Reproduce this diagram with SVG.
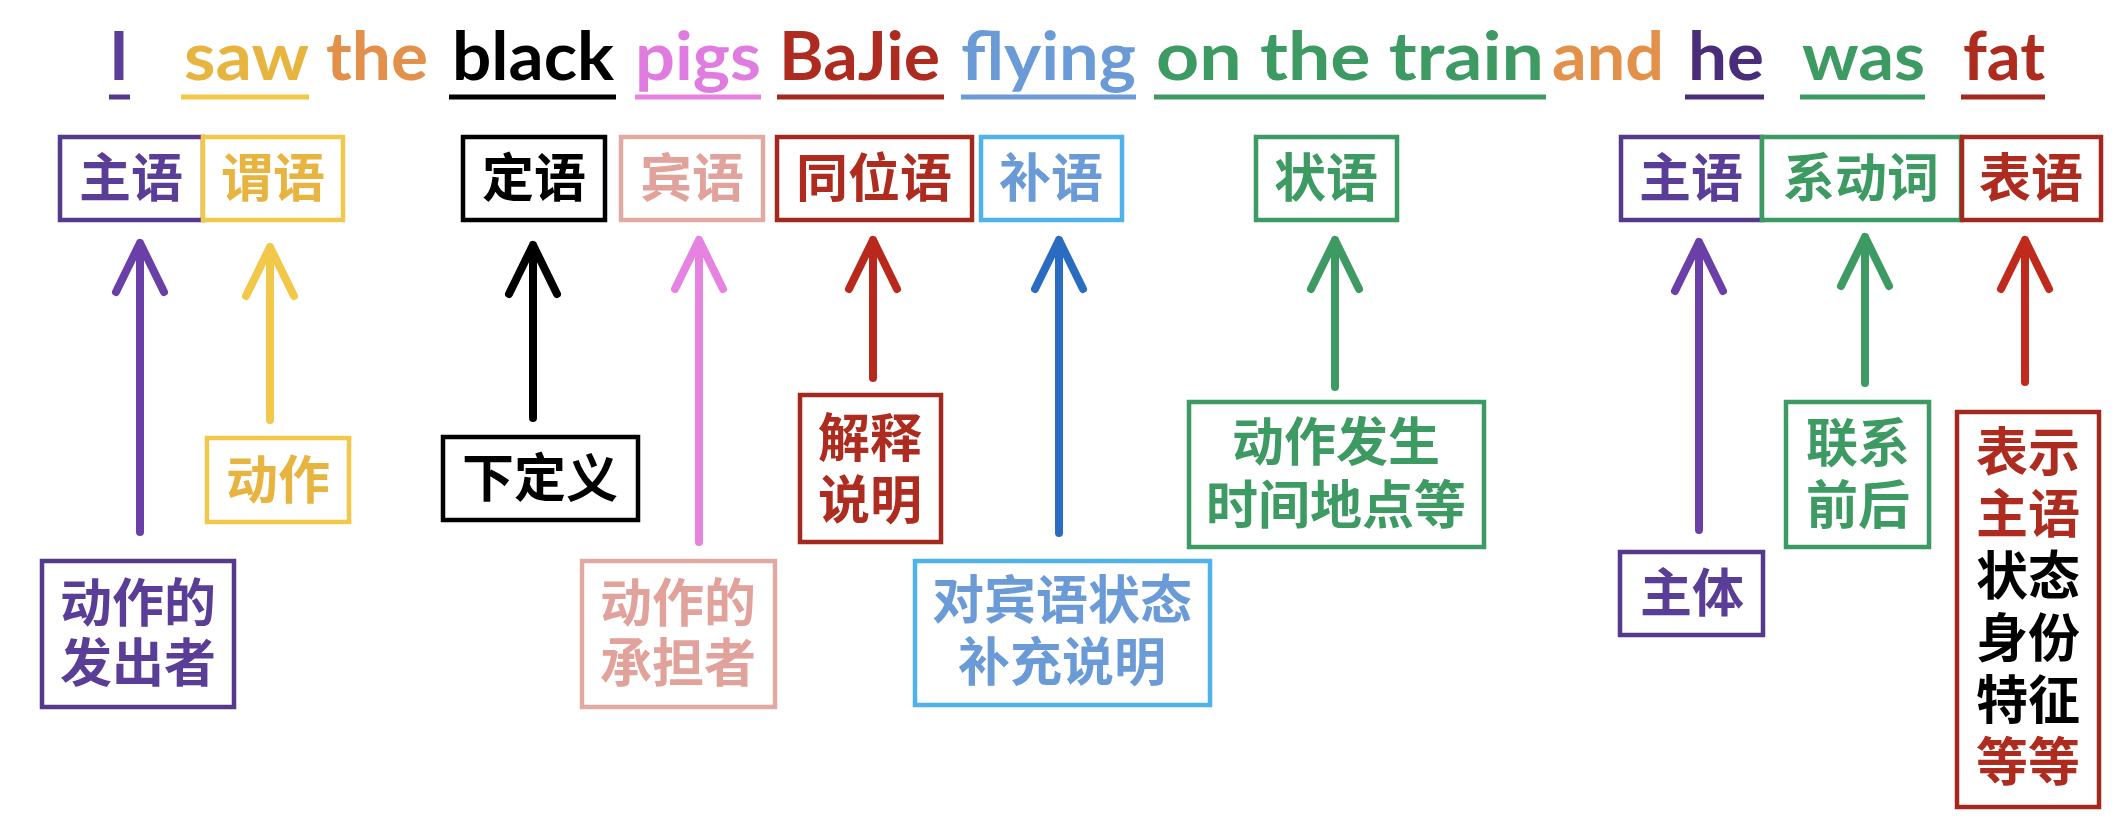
<svg xmlns="http://www.w3.org/2000/svg" width="2126" height="820" viewBox="0 0 2126 820">
<style>
.w{font-family:Lato,"Noto Sans","Liberation Sans",sans-serif;font-weight:700;font-size:67px}
.c{font-family:"Noto Sans CJK SC","Noto Sans",sans-serif;font-weight:700;font-size:52px;text-anchor:middle}
.b{fill:#fff;stroke-width:4.5}
.u{stroke-width:5;fill:none}
.a{fill:none;stroke-width:8;stroke-linecap:round;stroke-linejoin:round}
.pu{fill:#5a3d96}.puS{stroke:#553a8c}
.ye{fill:#e8b440}.yeS{stroke:#f2c84a}
.or{fill:#e3904a}
.bk{fill:#000}.bkS{stroke:#000}
.pk{fill:#e07ce0}.pkS{stroke:#e683e0}
.sa{fill:#e0a29a}.saS{stroke:#e0aaa2}
.rd{fill:#ad2b1f}.rdS{stroke:#a3281d}
.bl{fill:#6b9bd6}.blS{stroke:#4fb3ea}.blA{stroke:#2a6cc0}
.gr{fill:#3d9a62}.grS{stroke:#3d9a62}
.dp{fill:#4a2d7a}.dpS{stroke:#4a2d7a}
</style>
<rect width="2126" height="820" fill="#fff"/>

<g id="sentence">
<text class="w pu" x="119" y="80" text-anchor="middle">I</text>
<text class="w ye" x="184" y="80" textLength="125" lengthAdjust="spacingAndGlyphs">saw</text>
<text class="w or" x="326" y="80" textLength="102" lengthAdjust="spacingAndGlyphs">the</text>
<text class="w bk" x="452" y="80" textLength="162" lengthAdjust="spacingAndGlyphs">black</text>
<text class="w pk" x="635" y="80" textLength="126" lengthAdjust="spacingAndGlyphs">pigs</text>
<text class="w rd" x="779" y="80" textLength="161" lengthAdjust="spacingAndGlyphs">BaJie</text>
<text class="w bl" x="961" y="80" textLength="175" lengthAdjust="spacingAndGlyphs">flying</text>
<text class="w gr" x="1156" y="80" textLength="388" lengthAdjust="spacingAndGlyphs">on the train</text>
<text class="w or" x="1552" y="80" textLength="112" lengthAdjust="spacingAndGlyphs">and</text>
<text class="w dp" x="1688" y="80" textLength="76" lengthAdjust="spacingAndGlyphs">he</text>
<text class="w gr" x="1802" y="80" textLength="123" lengthAdjust="spacingAndGlyphs">was</text>
<text class="w rd" x="1963" y="80" textLength="82" lengthAdjust="spacingAndGlyphs">fat</text>
<path class="u puS" d="M109 97H130"/>
<path class="u yeS" d="M181 97H309"/>
<path class="u bkS" d="M449 97H616"/>
<path class="u pkS" d="M635 97H761"/>
<path class="u rdS" d="M777 97H944"/>
<path class="u" style="stroke:#6b9bd6" d="M961 97H1136"/>
<path class="u grS" d="M1154 97H1546"/>
<path class="u dpS" d="M1685 97H1764"/>
<path class="u grS" d="M1800 97H1925"/>
<path class="u rdS" d="M1961 97H2045"/>
</g>

<g id="n-zhuyu"><rect class="b puS" x="60" y="137" width="143" height="83"/><text class="c pu" x="131" y="197">主语</text></g>
<g id="n-weiyu"><rect class="b yeS" x="203" y="137" width="140" height="83"/><text class="c ye" x="273" y="197">谓语</text></g>
<g id="n-dingyu"><rect class="b bkS" x="463" y="137" width="142" height="83"/><text class="c bk" x="534" y="197">定语</text></g>
<g id="n-binyu"><rect class="b saS" x="621" y="137" width="142" height="83"/><text class="c sa" x="692" y="197">宾语</text></g>
<g id="n-tongweiyu"><rect class="b rdS" x="777" y="137" width="195" height="83"/><text class="c rd" x="874" y="197">同位语</text></g>
<g id="n-buyu"><rect class="b blS" x="981" y="137" width="141" height="83"/><text class="c bl" x="1051" y="197">补语</text></g>
<g id="n-zhuangyu"><rect class="b grS" x="1256" y="137" width="141" height="83"/><text class="c gr" x="1326" y="197">状语</text></g>
<g id="n-zhuyu2"><rect class="b puS" x="1621" y="137" width="141" height="83"/><text class="c pu" x="1691" y="197">主语</text></g>
<g id="n-xidongci"><rect class="b grS" x="1762" y="137" width="199" height="83"/><text class="c gr" x="1861" y="197">系动词</text></g>
<g id="n-biaoyu"><rect class="b rdS" x="1962" y="137" width="139" height="83"/><text class="c rd" x="2031" y="197">表语</text></g>

<g id="n-fachuzhe"><rect class="b puS" x="42" y="561" width="192" height="146"/><text class="c pu" x="138" y="622">动作的<tspan x="138" dy="60">发出者</tspan></text></g>
<g id="n-dongzuo"><rect class="b yeS" x="207" y="438" width="142" height="84"/><text class="c ye" x="278" y="499">动作</text></g>
<g id="n-xiadingyi"><rect class="b bkS" x="443" y="437" width="195" height="83"/><text class="c bk" x="540" y="497">下定义</text></g>
<g id="n-chengdanzhe"><rect class="b saS" x="582" y="561" width="193" height="146"/><text class="c sa" x="678" y="622">动作的<tspan x="678" dy="60">承担者</tspan></text></g>
<g id="n-jieshi"><rect class="b rdS" x="800" y="395" width="141" height="147"/><text class="c rd" x="870" y="457">解释<tspan x="870" dy="62">说明</tspan></text></g>
<g id="n-buchong"><rect class="b blS" x="915" y="561" width="295" height="144"/><text class="c bl" x="1062" y="619">对宾语状态<tspan x="1062" dy="62">补充说明</tspan></text></g>
<g id="n-shijian"><rect class="b grS" x="1189" y="402" width="295" height="145"/><text class="c gr" x="1336" y="461">动作发生<tspan x="1336" dy="63">时间地点等</tspan></text></g>
<g id="n-zhuti"><rect class="b puS" x="1620" y="552" width="143" height="83"/><text class="c pu" x="1692" y="612">主体</text></g>
<g id="n-lianxi"><rect class="b grS" x="1786" y="402" width="143" height="145"/><text class="c gr" x="1858" y="462">联系<tspan x="1858" dy="62">前后</tspan></text></g>
<g id="n-biaoshi"><rect class="b rdS" x="1957" y="412" width="142" height="395"/>
<text class="c rd" x="2028" y="471">表示<tspan x="2028" dy="62">主语</tspan><tspan x="2028" dy="62" class="bk">状态</tspan><tspan x="2028" dy="62" class="bk">身份</tspan><tspan x="2028" dy="62" class="bk">特征</tspan><tspan x="2028" dy="62">等等</tspan></text></g>

<g id="connectors">
<path class="a" style="stroke:#6a3fa8" d="M140 532V243M116 292L140 243L164 292"/>
<path class="a yeS" d="M270 420V247M246 296L270 247L294 296"/>
<path class="a bkS" d="M533 418V245M509 294L533 245L557 294"/>
<path class="a pkS" d="M699 542V240M675 289L699 240L723 289"/>
<path class="a" style="stroke:#b8281c" d="M873 378V240M849 289L873 240L897 289"/>
<path class="a blA" d="M1059 533V240M1035 289L1059 240L1083 289"/>
<path class="a grS" d="M1335 387V240M1311 289L1335 240L1359 289"/>
<path class="a" style="stroke:#6a3fa8" d="M1699 530V242M1675 291L1699 242L1723 291"/>
<path class="a grS" d="M1865 383V237M1841 286L1865 237L1889 286"/>
<path class="a" style="stroke:#c02a1c" d="M2025 382V240M2001 289L2025 240L2049 289"/>
</g>
</svg>
